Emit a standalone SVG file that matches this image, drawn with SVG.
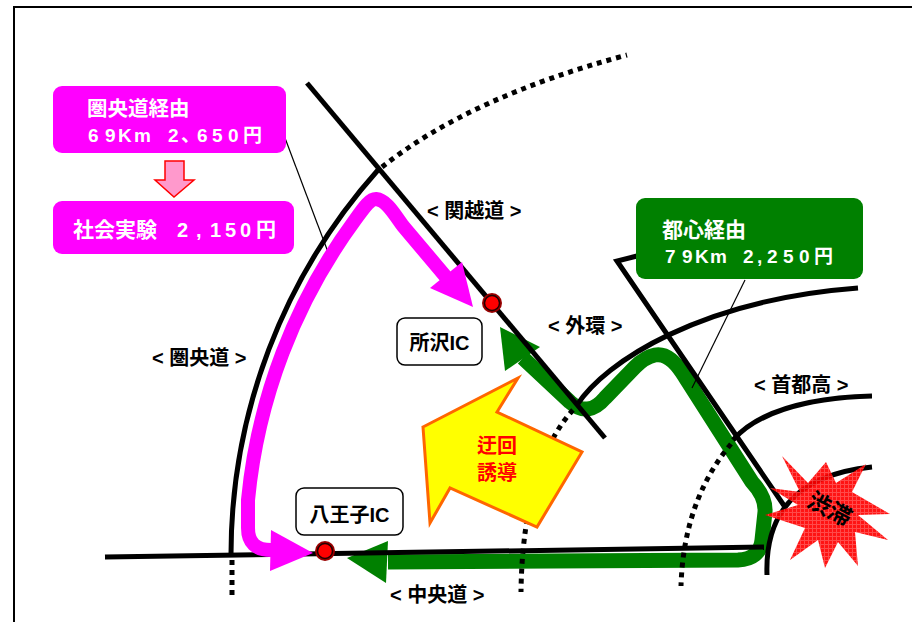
<svg xmlns="http://www.w3.org/2000/svg" width="912" height="622" viewBox="0 0 912 622">
<defs>
<style>
.road{fill:none;stroke:#000;stroke-width:5}
.dot{fill:none;stroke:#000;stroke-width:5;stroke-dasharray:5 5}
.lead{fill:none;stroke:#000;stroke-width:1.2}
.mg{fill:none;stroke:#FF00FF;stroke-width:14;stroke-linejoin:round;stroke-linecap:butt}
.gr{fill:none;stroke:#008000;stroke-width:15;stroke-linejoin:round;stroke-linecap:butt}
text{font-family:"Liberation Sans","Noto Sans CJK JP",sans-serif;font-weight:bold}
.lbl{font-size:20px;fill:#000}
.wt{fill:#fff}
.icbox{fill:#fff;stroke:#000;stroke-width:1.5}
</style>
<pattern id="mesh" width="4" height="4" patternUnits="userSpaceOnUse">
<rect width="4" height="4" fill="#FF0000"/>
<path d="M0 0.5H4M0.5 0V4" stroke="#FF3a3a" stroke-width="1"/>
</pattern>
</defs>
<rect width="912" height="622" fill="#fff"/>
<rect x="14" y="7" width="920" height="640" fill="none" stroke="#000" stroke-width="2"/>

<!-- route via central Tokyo (green) -->
<g id="route-toshin">
<path class="gr" d="M388,562 L738,560 Q760,559 762,540 L765,512 Q766,497 752,482 L685,377 Q670,352 655,355 Q645,357 635,367 L605,398 Q588,418 570,402 L523,358"/>
<polygon points="500,327 505,371 540,347" fill="#008000"/>
<polygon points="347,558 388,541 386,583" fill="#008000"/>
</g>

<!-- expressways -->
<g id="roads">
<path class="road" d="M231,556 A578,578 0 0 1 378,170"/>
<path class="dot" d="M382,167 Q470,97 627,55"/>
<path class="dot" d="M232,560 L232,600"/>
<line class="road" x1="307" y1="83" x2="605" y2="438"/>
<line class="road" x1="105" y1="557" x2="764" y2="547"/>
<path class="road" d="M577,405 C605,362 700,300 858,288"/>
<path class="dot" d="M573,410 C545,440 522,500 521,592"/>
<path class="road" d="M733,440 C755,415 800,398 872,396"/>
<path class="dot" d="M731,444 C705,475 683,520 681,586"/>
<path class="road" d="M767,575 C765,520 790,475 872,467"/>
<polyline class="road" points="637,256 617,261 785,507"/>
<line class="lead" x1="285" y1="138" x2="328" y2="252"/>
<line class="lead" x1="745" y1="280" x2="692" y2="388"/>
</g>

<!-- route via Ken-O-Do (magenta) -->
<g id="route-keno">
<path class="mg" d="M446,277 L403,226 C393,212 386,200 376,199 C370,199 365,206 355,220 A564,564 0 0 0 248,500 L248,528 Q248,550 271,550"/>
<polygon points="473,307 430,288 462,262" fill="#FF00FF"/>
<polygon points="313,553 271,530 270,571" fill="#FF00FF"/>
</g>

<!-- road names -->
<g id="road-labels">
<text class="lbl" x="427" y="218">&lt; 関越道 &gt;</text>
<text class="lbl" x="548" y="333">&lt; 外環 &gt;</text>
<text class="lbl" x="754" y="392">&lt; 首都高 &gt;</text>
<text class="lbl" x="152" y="365">&lt; 圏央道 &gt;</text>
<text class="lbl" x="390" y="602">&lt; 中央道 &gt;</text>
</g>

<!-- interchanges -->
<g id="ic-tokorozawa">
<rect class="icbox" x="397" y="318" width="85" height="47" rx="8"/>
<text class="lbl" x="439.5" y="350" font-size="20" text-anchor="middle">所沢IC</text>
<circle cx="492" cy="303" r="10" fill="#900"/>
<circle cx="492" cy="303" r="7.5" fill="#FF0000" stroke="#200" stroke-width="1.5"/>
</g>
<g id="ic-hachioji">
<rect class="icbox" x="296" y="488" width="107" height="47" rx="8"/>
<text class="lbl" x="349.5" y="522" font-size="21" text-anchor="middle">八王子IC</text>
<circle cx="325" cy="551" r="10" fill="#900"/>
<circle cx="325" cy="551" r="7.5" fill="#FF0000" stroke="#200" stroke-width="1.5"/>
</g>

<!-- detour guidance arrow -->
<g id="detour">
<polygon points="423,427 518,378 497,412 582,452 537,527 450,488 430,523" fill="#FFFF00" stroke="#FF6600" stroke-width="3" stroke-linejoin="miter"/>
<text x="477" y="453" font-size="20" fill="#FF0000">迂回</text>
<text x="477" y="480" font-size="20" fill="#FF0000">誘導</text>
</g>

<!-- congestion burst -->
<g id="jam">
<polygon points="782,456 808,483 826,462 836,483 866,464 852,492 890,514 858,515 888,540 855,532 858,566 838,542 825,568 818,540 790,560 805,528 765,515 798,505 770,488 800,492" fill="url(#mesh)" opacity="0.92"/>
<text x="829" y="517" font-size="23" fill="#000" text-anchor="middle" transform="rotate(28 829 510)">渋滞</text>
</g>

<!-- fare boxes -->
<g id="box-keno">
<rect x="53" y="86" width="233" height="67" rx="9" fill="#FF00FF"/>
<text class="wt" x="87" y="116" font-size="20.5">圏央道経由</text>
<text class="wt" font-size="19" x="88 105 118 134 168 181 197 212 228 243" y="142">69Km2、650円</text>
</g>
<g id="fare-arrow">
<polygon points="165,161 184,161 184,180 194,180 174,197 155,180 165,180" fill="#FF99CC" stroke="#FF0000" stroke-width="1.5"/>
</g>
<g id="box-trial">
<rect x="53" y="201" width="241" height="53" rx="9" fill="#FF00FF"/>
<text class="wt" x="73" y="237" font-size="21">社会実験</text>
<text class="wt" font-size="20" x="177 196 210 225 240 256" y="237">2,150円</text>
</g>
<g id="box-toshin">
<rect x="636" y="198" width="227" height="81" rx="9" fill="#008000"/>
<text class="wt" x="662" y="237" font-size="21">都心経由</text>
<text class="wt" font-size="19" x="665 682 695 710 743 757 767 783 799 814" y="263">79Km2,250円</text>
</g>
</svg>
